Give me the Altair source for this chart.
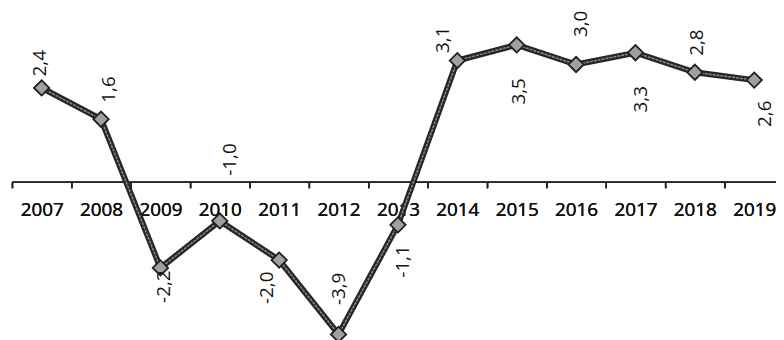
import altair as alt
import pandas as pd

# ---- data ----
years = ["2007", "2008", "2009", "2010", "2011", "2012", "2013",
         "2014", "2015", "2016", "2017", "2018", "2019"]
values = [2.4, 1.6, -2.2, -1.0, -2.0, -3.9, -1.1, 3.1, 3.5, 3.0, 3.3, 2.8, 2.6]
labels = ["2,4", "1,6", "-2,2", "-1,0", "-2,0", "-3,9", "-1,1",
          "3,1", "3,5", "3,0", "3,3", "2,8", "2,6"]

# ---- layout (label offsets from the point, in screen pixels) ----
lab_dx = [-2, 8, 4, 10, -12, 1, 5, -14, 2, 5, 6, 2, 11]
lab_dy = [-25, -30, 19, -62, 28, -46, 37, -21, 47, -41, 47, -30, 34]

W = 772          # svg plot width (page clips beyond)
RANGE = 780      # 13 bands of 60px
H = 332
YMIN, YMAX = -4.0, 4.4
ppu = H / (YMAX - YMIN)
band = RANGE / len(years)
zero_px = YMAX * ppu
FONT = "Open Sans"

df = pd.DataFrame({"year": years, "value": values})
lab = pd.DataFrame({
    "label": labels,
    "lx": [i + 0.5 + dx / band for i, dx in enumerate(lab_dx)],
    "ly": [v - dy / ppu for v, dy in zip(values, lab_dy)],
})

yscale = alt.Scale(domain=[YMIN, YMAX], nice=False, zero=False)
xscale = alt.Scale(domain=years, range=[0, RANGE], paddingInner=0, paddingOuter=0)

xaxis = alt.Axis(
    title=None, orient="bottom", offset=-(H - zero_px), grid=False,
    tickBand="extent", labelAngle=0, labelFont=FONT, labelFontSize=19,
    labelFontWeight="normal",
    labelColor="#111", labelPadding=13, labelOverlap=False, labelFlush=False,
    domainColor="#222", domainWidth=1.5, tickColor="#222", tickWidth=1.5,
    tickSize=6,
)

base = alt.Chart(df).encode(
    x=alt.X("year:O", scale=xscale, axis=xaxis, sort=years),
    y=alt.Y("value:Q", scale=yscale, axis=None),
)

line_outer = base.mark_line(color="#262626", strokeWidth=6, clip=False)
line_inner = base.mark_line(color="#8a8a8a", strokeWidth=1.5,
                            strokeDash=[3, 1], clip=False)
points = base.mark_point(shape="diamond", filled=True, size=240,
                         fill="#a0a0a0", stroke="#1e1e1e", strokeWidth=1.8,
                         opacity=1, clip=False)

text = alt.Chart(lab).mark_text(
    angle=270, align="center", baseline="middle", font=FONT,
    fontSize=19, color="#111", clip=False,
).encode(
    x=alt.X("lx:Q", scale=alt.Scale(domain=[0, len(years)], range=[0, RANGE],
                                    nice=False, zero=False), axis=None),
    y=alt.Y("ly:Q", scale=yscale, axis=None),
    text="label:N",
)

chart = alt.layer(line_outer, line_inner, points, text).resolve_scale(
    x="independent"
).properties(
    width=W, height=H,
    autosize=alt.AutoSizeParams(type="none"),
    padding={"left": 4, "top": 0, "right": 0, "bottom": 0},
).configure_view(strokeWidth=0)

chart.save("out.html", embed_options={"renderer": "svg", "actions": False})
